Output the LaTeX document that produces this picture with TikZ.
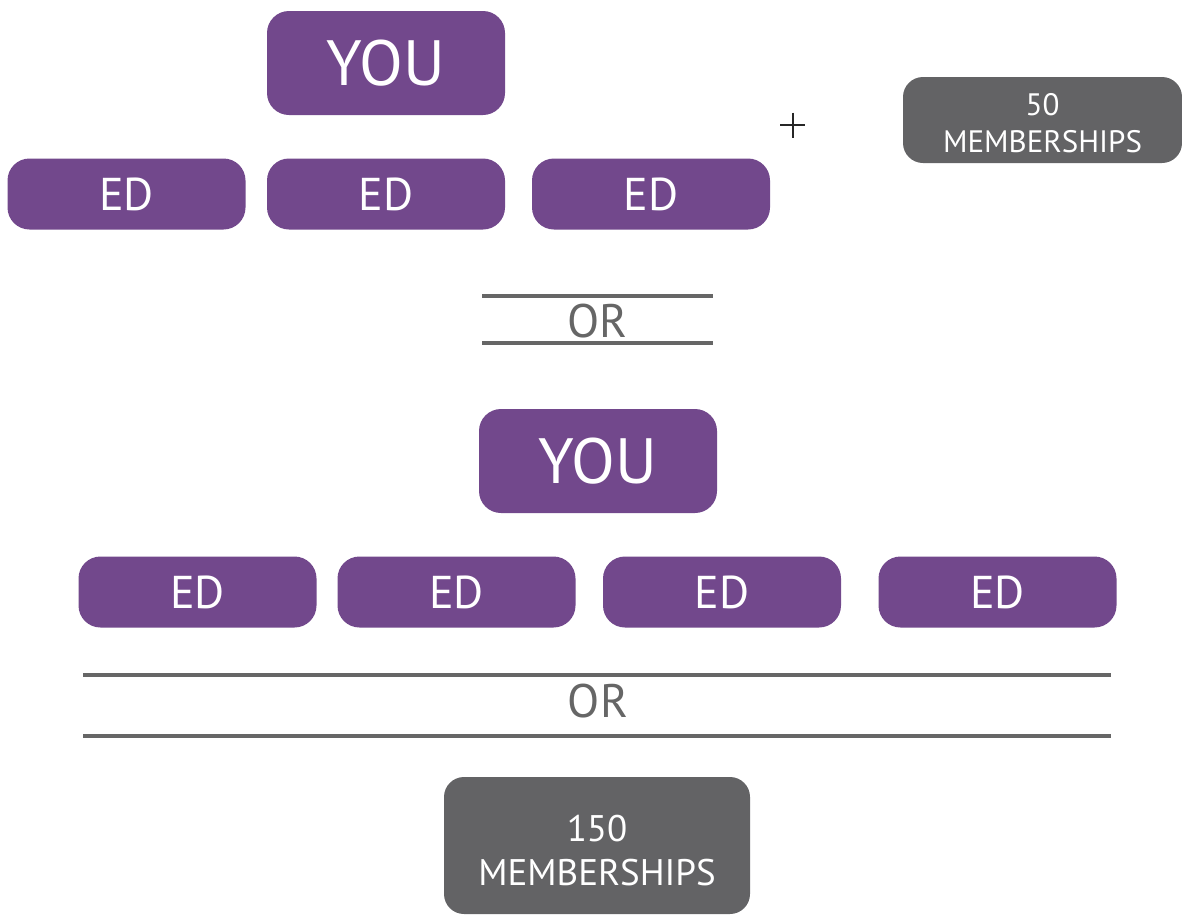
\documentclass[tikz,border=0pt]{standalone}
\usepackage{fontspec}
\setmainfont{PT Sans}
\definecolor{edpurple}{HTML}{72488C}
\definecolor{boxgray}{HTML}{636365}
\definecolor{linegray}{HTML}{666666}
\begin{document}
\begin{tikzpicture}[x=1pt,y=-1pt,
  pbox/.style={fill=edpurple,text=white,rounded corners=22pt,inner sep=0pt,
    minimum width=238pt,align=center},
  youbox/.style={pbox,minimum height=104pt,font=\fontsize{64}{64}\selectfont},
  edbox/.style={pbox,minimum height=71pt,font=\fontsize{46}{46}\selectfont},
  gbox/.style={fill=boxgray,rounded corners=20pt,inner sep=0pt},
  gtext/.style={text=white,inner sep=0pt,align=center},
  ortext/.style={text=linegray,inner sep=0pt,font=\fontsize{47}{47}\selectfont},
  orline/.style={draw=linegray,line width=4pt},
  plusline/.style={draw=black!85,line width=2pt}]
\useasboundingbox (0,0) rectangle (1182,916);
\clip (0,0) rectangle (1182,916);
% top group
\node[youbox] (you1) at (386,63) {YOU};
\node[edbox] (ed1) at (126.5,194) {ED};
\node[edbox] (ed2) at (386,194) {ED};
\node[edbox] (ed3) at (651,194) {ED};
% plus sign
\coordinate (pl) at (780,125);
\coordinate (pr) at (805,125);
\coordinate (pt) at (792.5,112.5);
\coordinate (pb) at (792.5,137.5);
\draw[plusline] (pl) -- (pr);
\draw[plusline] (pt) -- (pb);
\node[gbox,minimum width=279pt,minimum height=86pt] (m50) at (1042.5,120) {};
\node[gtext,font=\fontsize{31}{37}\selectfont] (m50t) at ([yshift=-3pt]m50.center) {50\\MEMBERSHIPS};
% first OR
\coordinate (o1a) at (482,296);
\coordinate (o1b) at (713,296);
\coordinate (o1c) at (482,343);
\coordinate (o1d) at (713,343);
\draw[orline] (o1a) -- (o1b);
\draw[orline] (o1c) -- (o1d);
\node[ortext] (or1) at (597.5,321) {OR};
% second group
\node[youbox] (you2) at (598,461) {YOU};
\node[edbox] (ed4) at (197.5,592) {ED};
\node[edbox] (ed5) at (456.5,592) {ED};
\node[edbox] (ed6) at (722,592) {ED};
\node[edbox] (ed7) at (997.5,592) {ED};
% second OR
\coordinate (o2a) at (83,675);
\coordinate (o2b) at (1111,675);
\coordinate (o2c) at (83,736);
\coordinate (o2d) at (1111,736);
\draw[orline] (o2a) -- (o2b);
\draw[orline] (o2c) -- (o2d);
\node[ortext] (or2) at (598,701) {OR};
% bottom box
\node[gbox,minimum width=306pt,minimum height=137pt] (m150) at (597,845.5) {};
\node[gtext,font=\fontsize{37}{44}\selectfont] (m150t) at ([yshift=-5pt]m150.center) {150\\MEMBERSHIPS};
\end{tikzpicture}
\end{document}
